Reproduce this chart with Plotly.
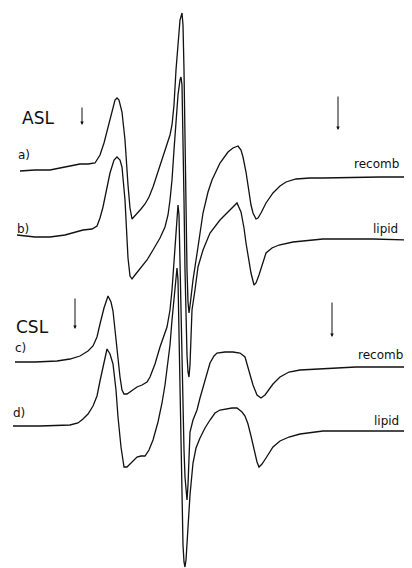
import plotly.graph_objects as go

# ---- spectra: field (x) and signal amplitude relative to left baseline (y, up positive)
a_field = [20,35,50,62,70,80,88,95,100,104,108,112,115,117,119,122,125,128,130,132,134,137,141,145,149,153,157,162,167,170,172,174,176,178,180,182,183,184,185,186,187,188,189,190,193,198,203,208,212,220,228,233,238,241,243,246,248,251,253,256,258,261,266,273,280,286,296,310,323,356,380,412]
a_signal = [-1,0,0,2,4,6,6,7,15,27,43,60,70,72,70,58,30,-15,-38,-49,-47,-44,-39,-34,-27,-17,-5,12,27,35,45,65,100,130,150,157,145,100,30,-45,-100,-132,-143,-136,-110,-77,-43,-22,-10,7,18,22,24,20,13,-2,-17,-35,-43,-49,-48,-43,-33,-23,-16,-12,-9,-8,-8,-7,-7,-7]

b_field = [17,35,50,65,83,92,97,100,103,107,110,114,117,120,122,125,128,130,132,135,140,147,153,160,165,168,170,172,174,176,178,180,181,182,183,184,185,186,187,188,189,190,191,192,195,198,203,210,220,228,233,237,241,244,246,249,251,254,256,259,263,266,272,279,293,323,373,412]
b_signal = [1,-1,-1,1,6,7,10,18,29,48,63,76,79,76,69,36,-22,-40,-43,-39,-33,-24,-14,-2,9,21,36,56,86,116,141,156,159,151,106,36,-34,-84,-119,-136,-141,-129,-104,-74,-54,-31,-14,3,16,24,30,33,24,8,-7,-24,-37,-49,-47,-39,-26,-17,-12,-9,-6,-3,-3,-4]

c_field = [15,35,57,70,80,88,93,97,100,104,108,111,113,115,117,120,122,124,127,130,134,137,142,147,150,155,160,164,167,170,172,174,176,178,179,180,181,182,183,184,185,186,187,188,189,190,193,197,200,203,207,210,214,217,225,233,240,245,249,253,257,261,265,269,273,280,289,300,316,356,408]
c_signal = [0,0,1,3,6,11,16,25,38,54,66,60,51,32,11,-15,-28,-32,-32,-30,-27,-25,-23,-20,-15,-2,15,26,35,52,72,100,132,157,147,102,42,-18,-58,-88,-115,-132,-138,-123,-96,-70,-58,-48,-36,-25,-10,-1,6,9,10,10,9,5,-9,-23,-33,-36,-33,-27,-22,-15,-10,-8,-7,-5,-5]

d_field = [13,40,70,78,83,88,93,97,100,104,107,110,113,116,118,121,124,127,130,134,137,141,145,149,153,158,162,165,167,170,172,174,175,177,178,179,180,181,182,183,184,185,186,188,190,193,196,200,205,210,215,220,226,232,237,242,245,248,251,254,257,259,262,266,273,280,289,300,323,360,404]
d_signal = [0,0,1,3,7,12,20,30,45,64,77,72,62,36,9,-21,-41,-41,-38,-34,-31,-30,-30,-24,-14,4,23,41,56,81,106,128,141,158,146,96,26,-34,-84,-119,-136,-141,-134,-94,-69,-37,-22,-12,-2,6,13,16,17,18,18,14,10,2,-10,-24,-36,-41,-38,-32,-21,-15,-11,-8,-5,-5,-5]

trace_ids = ["a)", "b)", "c)", "d)"]
sample_labels = ["recomb", "lipid", "recomb.", "lipid"]
spin_labels = ["ASL", "CSL"]
# vertical stacking offsets of each spectrum (baseline level)
offsets = [-170, -236, -362, -426]
# field positions marked by arrows (ASL left/right, CSL left/right)
arrow_field = [82, 338, 75, 332]

fields = [a_field, b_field, c_field, d_field]
signals = [a_signal, b_signal, c_signal, d_signal]

fig = go.Figure()
for f, s, off in zip(fields, signals, offsets):
    fig.add_trace(go.Scatter(
        x=f, y=[v + off for v in s], mode="lines",
        line=dict(color="#111111", width=1.3, shape="linear"),
        hoverinfo="skip", showlegend=False, cliponaxis=False))

FONT = "DejaVu Sans"
ann = []
# spin label titles
ann.append(dict(x=20, y=-118, text=spin_labels[0], showarrow=False, xanchor="left",
                font=dict(family=FONT, size=17, color="#111")))
ann.append(dict(x=14, y=-327, text=spin_labels[1], showarrow=False, xanchor="left",
                font=dict(family=FONT, size=17, color="#111")))
# trace ids
for (tx, ty), t in zip([(16, -155), (15, -229), (13, -348), (11, -413)], trace_ids):
    ann.append(dict(x=tx, y=ty, text=t, showarrow=False, xanchor="left",
                    font=dict(family=FONT, size=12, color="#111")))
# sample labels
for (tx, ty), t in zip([(352, -164), (371, -229), (356, -355), (372, -421)], sample_labels):
    ann.append(dict(x=tx, y=ty, text=t, showarrow=False, xanchor="left",
                    font=dict(family=FONT, size=12, color="#111")))
# arrows
for fx, (ytip, ylen) in zip(arrow_field, [(-125, 19), (-130, 35), (-329, 32), (-337, 36)]):
    ann.append(dict(x=fx, y=ytip, ax=fx, ay=ytip + ylen, axref="x", ayref="y",
                    text="", showarrow=True, arrowhead=2, arrowsize=0.7,
                    arrowwidth=1, arrowcolor="#111"))

# page body has an 8px margin; the figure covers the remaining window area
fig.update_layout(
    width=404, height=560, margin=dict(l=0, r=0, t=0, b=0),
    paper_bgcolor="white", plot_bgcolor="white",
    xaxis=dict(range=[8, 412], visible=False, fixedrange=True),
    yaxis=dict(range=[-568, -8], visible=False, fixedrange=True),
    annotations=ann,
)
fig.write_html("out.html")
